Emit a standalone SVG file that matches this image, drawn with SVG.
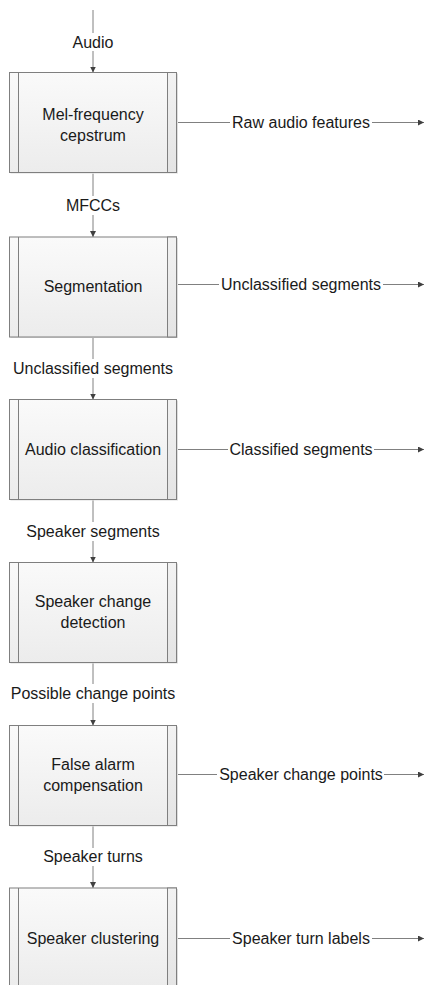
<svg xmlns="http://www.w3.org/2000/svg" width="427" height="985" viewBox="0 0 427 985">
<style>
.box{fill:url(#g);stroke:#7f7f7f;stroke-width:1}
.shadow{fill:#dedede}
.strip{fill:url(#g2);stroke:#7f7f7f;stroke-width:1}
.in{stroke:#7f7f7f;stroke-width:1}
.c{stroke:#808080;stroke-width:1;fill:none}
.a{stroke:#808080;stroke-width:1;fill:none;marker-end:url(#ah)}
text{font-family:"Liberation Sans",Arial,sans-serif;font-size:16px;fill:#1a1a1a;text-anchor:middle}
</style>
<defs>
<linearGradient id="g" x1="0" y1="0" x2="0" y2="1">
<stop offset="0" stop-color="#fafafa"/>
<stop offset="1" stop-color="#ececec"/>
</linearGradient>
<linearGradient id="g2" x1="0" y1="0" x2="0" y2="1">
<stop offset="0" stop-color="#f2f2f2"/>
<stop offset="1" stop-color="#e4e4e4"/>
</linearGradient>
<marker id="ah" viewBox="0 0 6 6" refX="6" refY="3" markerWidth="6" markerHeight="6" markerUnits="userSpaceOnUse" orient="auto">
<path d="M0,0 L6,3 L0,6 z" fill="#404040"/>
</marker>
<g id="proc">
<rect class="shadow" x="10.5" y="1.5" width="167.5" height="100"/>
<rect class="box" x="9.5" y="0.5" width="167" height="100"/>
<rect class="strip" x="167.5" y="0.5" width="9" height="100"/>
<line class="in" x1="18.5" y1="0.5" x2="18.5" y2="100.5"/>
</g>
</defs>

<g id="connectors">
<line class="c" x1="93" y1="10" x2="93" y2="33"/>
<line class="a" x1="93" y1="51" x2="93" y2="72.5"/>
<line class="c" x1="93" y1="173.5" x2="93" y2="196"/>
<line class="a" x1="93" y1="215" x2="93" y2="237"/>
<line class="c" x1="93" y1="337" x2="93" y2="359"/>
<line class="a" x1="93" y1="378" x2="93" y2="399.5"/>
<line class="c" x1="93" y1="500" x2="93" y2="522"/>
<line class="a" x1="93" y1="541" x2="93" y2="562.5"/>
<line class="c" x1="93" y1="663" x2="93" y2="684"/>
<line class="a" x1="93" y1="703" x2="93" y2="725.5"/>
<line class="c" x1="93" y1="826" x2="93" y2="848"/>
<line class="a" x1="93" y1="866" x2="93" y2="888"/>

<line class="c" x1="177" y1="122.5" x2="230" y2="122.5"/>
<line class="a" x1="372" y1="122.5" x2="424" y2="122.5"/>
<line class="c" x1="177" y1="284.5" x2="219" y2="284.5"/>
<line class="a" x1="383" y1="284.5" x2="424" y2="284.5"/>
<line class="c" x1="177" y1="449.5" x2="228" y2="449.5"/>
<line class="a" x1="374" y1="449.5" x2="424" y2="449.5"/>
<line class="c" x1="177" y1="774.5" x2="217" y2="774.5"/>
<line class="a" x1="384" y1="774.5" x2="424" y2="774.5"/>
<line class="c" x1="177" y1="938.5" x2="230" y2="938.5"/>
<line class="a" x1="372" y1="938.5" x2="424" y2="938.5"/>
</g>

<g id="labels">
<text x="93" y="47.5">Audio</text>
<text x="93" y="210.5">MFCCs</text>
<text x="93" y="373.5">Unclassified segments</text>
<text x="93" y="536.5">Speaker segments</text>
<text x="93" y="698.5">Possible change points</text>
<text x="93" y="861.5">Speaker turns</text>
<text x="301" y="128">Raw audio features</text>
<text x="301" y="290">Unclassified segments</text>
<text x="301" y="455">Classified segments</text>
<text x="301" y="780">Speaker change points</text>
<text x="301" y="944">Speaker turn labels</text>
</g>

<g id="mfcc">
<use href="#proc" x="0" y="72"/>
<text x="93" y="120">Mel-frequency</text>
<text x="93" y="140.5">cepstrum</text>
</g>
<g id="segmentation">
<use href="#proc" x="0" y="236.5"/>
<text x="93" y="292">Segmentation</text>
</g>
<g id="classification">
<use href="#proc" x="0" y="399"/>
<text x="93" y="454.5">Audio classification</text>
</g>
<g id="change-detection">
<use href="#proc" x="0" y="562"/>
<text x="93" y="606.5">Speaker change</text>
<text x="93" y="627.5">detection</text>
</g>
<g id="false-alarm">
<use href="#proc" x="0" y="725"/>
<text x="93" y="770">False alarm</text>
<text x="93" y="790.5">compensation</text>
</g>
<g id="clustering">
<use href="#proc" x="0" y="887.5"/>
<text x="93" y="943.5">Speaker clustering</text>
</g>
</svg>
